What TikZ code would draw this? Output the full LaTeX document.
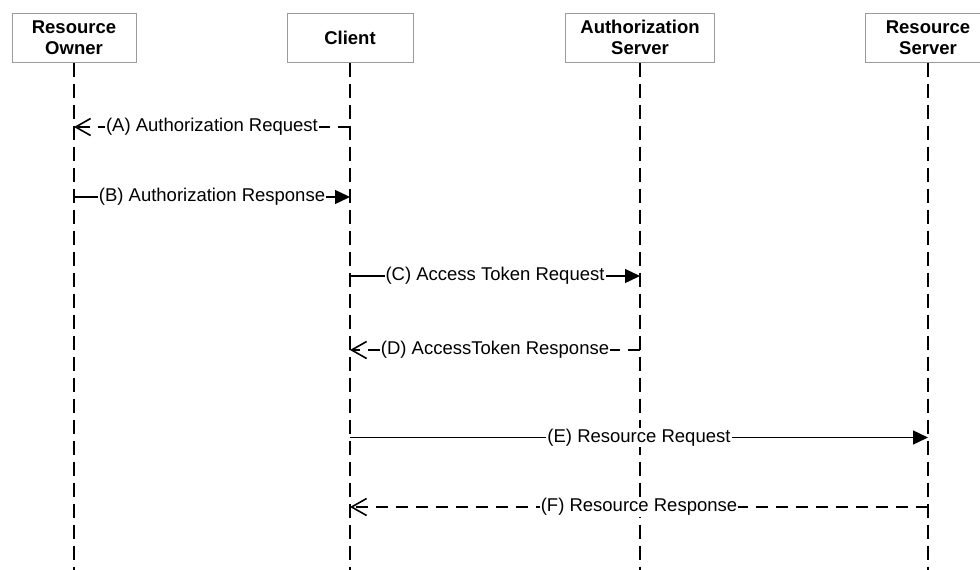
\documentclass[tikz,border=0pt]{standalone}
\usepackage{fontspec}
\setmainfont{Liberation Sans}
\usetikzlibrary{arrows.meta}
\definecolor{boxgray}{RGB}{155,155,155}
\begin{document}
\begin{tikzpicture}[x=1pt,y=-1pt,
  actor/.style={draw=boxgray, line width=1pt, fill=white, minimum height=49pt, inner sep=0pt, align=center, font=\fontsize{18.5}{21}\selectfont\bfseries},
  lifeline/.style={line width=1.8pt, dash pattern=on 14pt off 7pt},
  msg/.style={line width=1.4pt},
  reply/.style={line width=1.4pt, dash pattern=on 12pt off 8pt},
  lab/.style={fill=white, inner sep=1pt, font=\fontsize{18.5}{21}\selectfont},
  req/.style={-{Triangle[length=15pt,width=14pt]}},
  ret/.style={-{Straight Barb[length=15pt,width=17pt,line width=1.6pt]}}
]
\useasboundingbox (0,0) rectangle (980,570);
\node[actor, minimum width=124pt] (owner) at (74,37.5) {Resource\\Owner};
\node[actor, minimum width=126pt] (client) at (350,37.5) {Client};
\node[actor, minimum width=149pt] (auth) at (640,37.5) {Authorization\\Server};
\node[actor, minimum width=126pt] (rs) at (928,37.5) {Resource\\Server};
\coordinate (bottom) at (0,570);
\draw[lifeline] (owner.south) -- (owner.south |- bottom);
\draw[lifeline] (client.south) -- (client.south |- bottom);
\draw[lifeline] (auth.south) -- (auth.south |- bottom);
\draw[lifeline] (rs.south) -- (rs.south |- bottom);
\coordinate (yA) at (0,127);
\coordinate (yB) at (0,197);
\coordinate (yC) at (0,276);
\coordinate (yD) at (0,350);
\coordinate (yE) at (0,437.5);
\coordinate (yF) at (0,507);
\draw[reply, ret] (client |- yA) -- node[lab] {(A) Authorization Request} (owner |- yA);
\draw[msg, req] (owner |- yB) -- node[lab] {(B) Authorization Response} (client |- yB);
\draw[msg, req] (client |- yC) -- node[lab] {(C) Access Token Request} (auth |- yC);
\draw[reply, ret] (auth |- yD) -- node[lab] {(D) AccessToken Response} (client |- yD);
\draw[msg, req] (client |- yE) -- node[lab] {(E) Resource Request} (rs |- yE);
\draw[reply, ret] (rs |- yF) -- node[lab] {(F) Resource Response} (client |- yF);
\end{tikzpicture}
\end{document}
